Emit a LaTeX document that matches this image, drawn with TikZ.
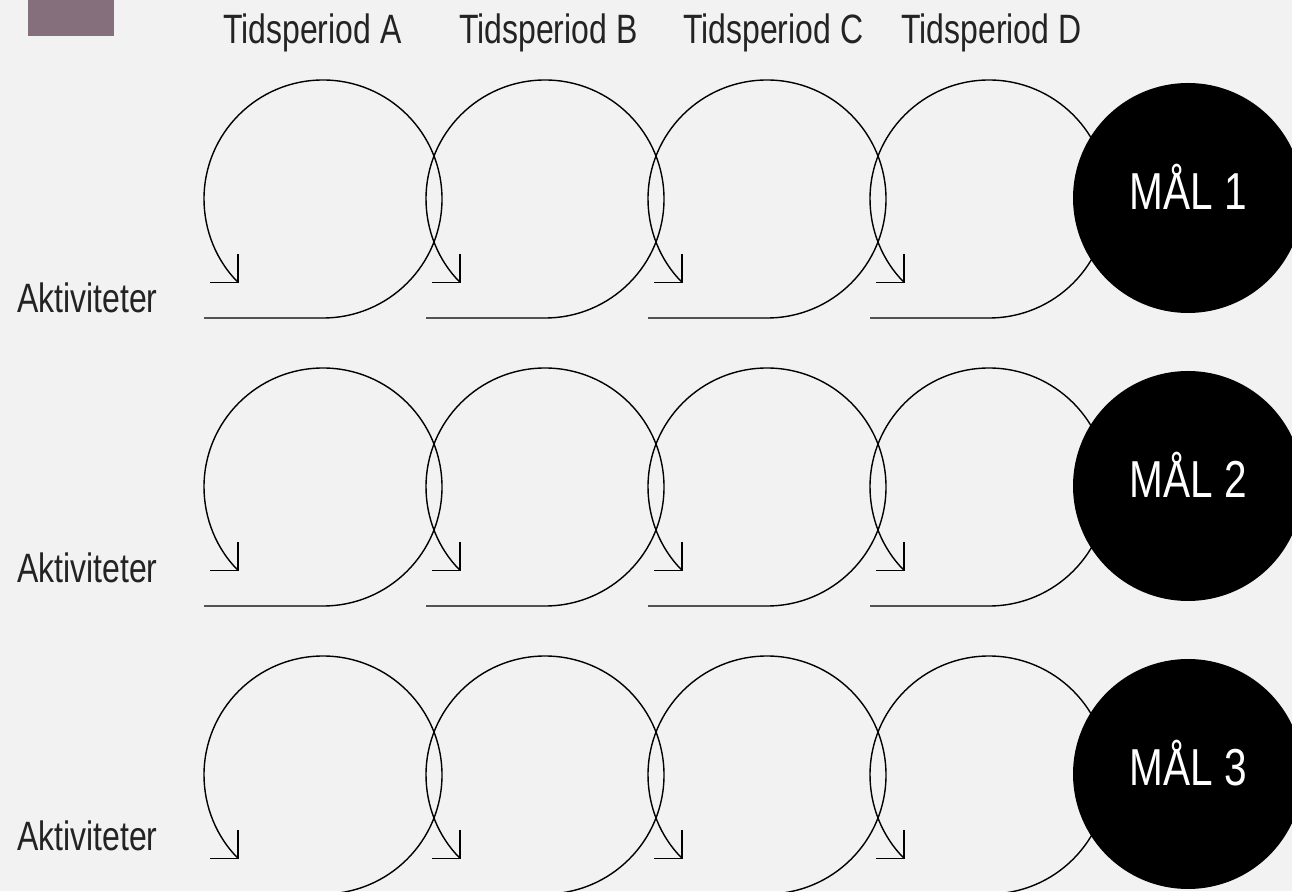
\documentclass[tikz,border=0pt]{standalone}
\usepackage{fontspec}
\setmainfont{Liberation Sans}[FakeStretch=0.78]
\usetikzlibrary{arrows.meta,positioning}
\definecolor{bgcol}{RGB}{242,242,242}
\definecolor{mauve}{RGB}{133,111,124}
\definecolor{txtcol}{RGB}{35,35,35}

\begin{document}
\begin{tikzpicture}[x=1pt,y=1pt,
		period/.style={anchor=base west, inner sep=0pt, text=txtcol, font=\fontsize{41}{48}\selectfont},
		activity/.style={period},
		goal/.style={circle, fill=black, text=white, minimum size=230pt, inner sep=0pt, font=\fontsize{52}{60}\selectfont, text height=30pt, text depth=6pt},
		cyclearrow/.style={line width=1.4pt, -{Straight Barb[angle=90:28pt]}}]
			\useasboundingbox (0,0) rectangle (1292,891);
			\clip (0,0) rectangle (1292,891);
			\fill [bgcol] (0,0) rectangle (1292,891);
			\fill [mauve] (28,855) rectangle (114,891);
			
			\node [period] (perA) at (223,847) {Tidsperiod A};
			\node [period] (perB) at (459,847) {Tidsperiod B};
			\node [period] (perC) at (683,847) {Tidsperiod C};
			\node [period] (perD) at (901,847) {Tidsperiod D};
			
			\node [activity] (act1) at (17,578) {Aktiviteter};
			\node [activity] (act2) at (17,308) {Aktiviteter};
			\node [activity] (act3) at (17,41) {Aktiviteter};
			
			% one loop per period and goal
			\foreach \r in {0,1,2}
				\foreach \c in {0,1,2,3}
					\draw [cyclearrow] ({204+222*\c},{573-288*\r}) -- ++(119,0) arc[start angle=-90, end angle=225, radius=119];
			
			\node [goal] (goal1) at (1188,693) {MÅL 1};
			\node [goal] (goal2) at (1188,405) {MÅL 2};
			\node [goal] (goal3) at (1188,117) {MÅL 3};
			
		\end{tikzpicture}
\end{document}
